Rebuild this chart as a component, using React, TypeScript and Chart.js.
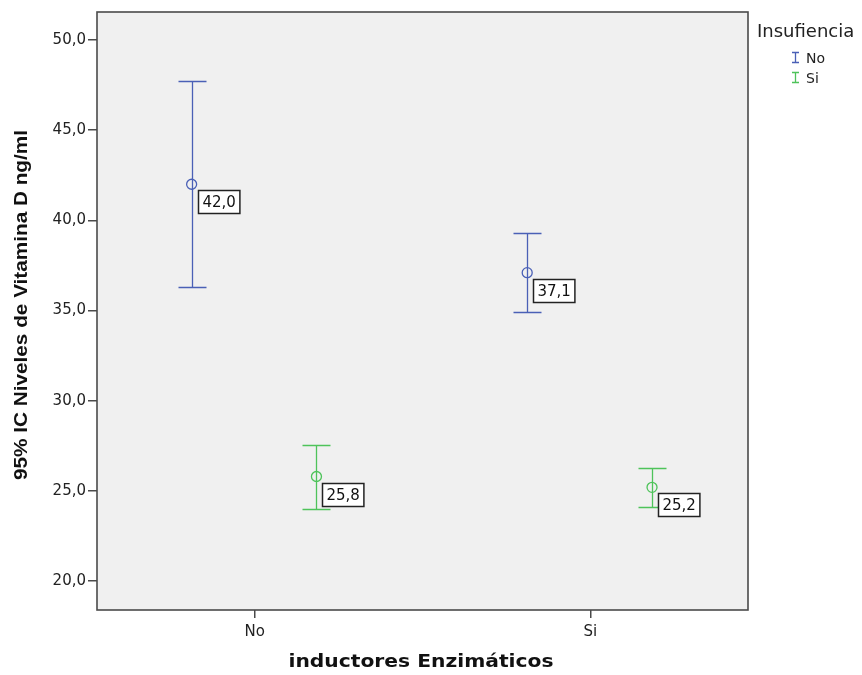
import React, { useEffect, useRef } from "react";
import { Chart, registerables } from "chart.js";

Chart.register(...registerables);

const categories = ["No", "Si"];
const seriesNames = ["No", "Si"];
const seriesColors = ["#4a60b6", "#4ec35a"];
const seriesOffsets = [-0.188, 0.184];
const means = [
  [42.0, 37.1],
  [25.8, 25.2],
];
const upper = [
  [47.7, 39.3],
  [27.55, 26.25],
];
const lower = [
  [36.3, 34.9],
  [24.0, 24.1],
];
const meanLabels = [
  ["42,0", "37,1"],
  ["25,8", "25,2"],
];
const yTicks = [20, 25, 30, 35, 40, 45, 50];
const yTitle = "95% IC Niveles de Vitamina D ng/ml";
const xTitle = "inductores Enzimáticos";
const legendTitle = "Insufiencia";

const fmt = (v: number) => v.toFixed(1).replace(".", ",");
const SANS = "'DejaVu Sans', Verdana, sans-serif";

export default function App() {
  const ref = useRef<HTMLCanvasElement | null>(null);

  useEffect(() => {
    if (!ref.current) return;

    const datasets = seriesNames.map((name, s) => ({
      label: name,
      data: categories.map((_, c) => ({ x: c + seriesOffsets[s], y: means[s][c] })),
      borderColor: seriesColors[s],
      backgroundColor: "rgba(0,0,0,0)",
      pointRadius: 5,
      pointBorderWidth: 1.3,
      pointStyle: "circle",
      showLine: false,
    }));

    const decor = {
      id: "decor",
      beforeDraw(chart: any) {
        const { ctx, chartArea: a } = chart;
        ctx.save();
        ctx.fillStyle = "#ffffff";
        ctx.fillRect(0, 0, chart.width, chart.height);
        ctx.fillStyle = "#f0f0f0";
        ctx.fillRect(a.left, a.top, a.right - a.left, a.bottom - a.top);
        ctx.restore();
      },
      beforeDatasetsDraw(chart: any) {
        const { ctx } = chart;
        const xs = chart.scales.x;
        const ys = chart.scales.y;
        ctx.save();
        ctx.lineWidth = 1.3;
        seriesNames.forEach((_, s) => {
          ctx.strokeStyle = seriesColors[s];
          categories.forEach((_, c) => {
            const px = Math.round(xs.getPixelForValue(c + seriesOffsets[s])) + 0.5;
            const pt = Math.round(ys.getPixelForValue(upper[s][c])) + 0.5;
            const pb = Math.round(ys.getPixelForValue(lower[s][c])) + 0.5;
            ctx.beginPath();
            ctx.moveTo(px, pt);
            ctx.lineTo(px, pb);
            ctx.moveTo(px - 14, pt);
            ctx.lineTo(px + 14, pt);
            ctx.moveTo(px - 14, pb);
            ctx.lineTo(px + 14, pb);
            ctx.stroke();
          });
        });
        ctx.restore();
      },
      afterDraw(chart: any) {
        const { ctx, chartArea: a } = chart;
        const xs = chart.scales.x;
        const ys = chart.scales.y;
        ctx.save();
        // frame
        ctx.strokeStyle = "#4a4a4a";
        ctx.lineWidth = 1.6;
        ctx.strokeRect(a.left, a.top, a.right - a.left, a.bottom - a.top);

        // mean labels
        ctx.font = "15px " + SANS;
        ctx.textBaseline = "middle";
        ctx.textAlign = "left";
        seriesNames.forEach((_, s) => {
          categories.forEach((_, c) => {
            const px = xs.getPixelForValue(c + seriesOffsets[s]);
            const py = ys.getPixelForValue(means[s][c]);
            const t = meanLabels[s][c];
            const w = ctx.measureText(t).width + 8;
            const bx = Math.round(px + 6) + 0.5;
            const by = Math.round(py + 6) + 0.5;
            const h = 23;
            ctx.fillStyle = "#ffffff";
            ctx.fillRect(bx, by, w, h);
            ctx.strokeStyle = "#222222";
            ctx.lineWidth = 1.5;
            ctx.strokeRect(bx, by, w, h);
            ctx.fillStyle = "#111111";
            ctx.fillText(t, bx + 4, by + h / 2 + 1);
          });
        });

        // y title
        ctx.save();
        ctx.translate(22, 305);
        ctx.rotate(-Math.PI / 2);
        ctx.font = "bold 18px 'Liberation Sans', Arial, sans-serif";
        const tw = ctx.measureText(yTitle).width;
        ctx.scale(350 / tw, 1);
        ctx.fillStyle = "#111111";
        ctx.textAlign = "center";
        ctx.textBaseline = "middle";
        ctx.fillText(yTitle, 0, 0);
        ctx.restore();

        // x title
        ctx.save();
        ctx.translate(421, 662);
        ctx.font = "bold 18px " + SANS;
        const xw = ctx.measureText(xTitle).width;
        ctx.scale(265 / xw, 1);
        ctx.fillStyle = "#111111";
        ctx.textAlign = "center";
        ctx.textBaseline = "middle";
        ctx.fillText(xTitle, 0, 0);
        ctx.restore();

        // legend
        ctx.textAlign = "left";
        ctx.textBaseline = "alphabetic";
        ctx.font = "18px " + SANS;
        ctx.fillStyle = "#222222";
        ctx.fillText(legendTitle, 757, 37);
        ctx.font = "14px " + SANS;
        seriesNames.forEach((n, s) => {
          const base = 63 + s * 20;
          ctx.strokeStyle = seriesColors[s];
          ctx.lineWidth = 1.3;
          ctx.beginPath();
          ctx.moveTo(795.5, base - 10);
          ctx.lineTo(795.5, base);
          ctx.moveTo(792, base - 10.5);
          ctx.lineTo(799, base - 10.5);
          ctx.moveTo(792, base - 0.5);
          ctx.lineTo(799, base - 0.5);
          ctx.stroke();
          ctx.fillStyle = "#222222";
          ctx.fillText(n, 806, base);
        });
        ctx.restore();
      },
    };

    const chart = new Chart(ref.current, {
      type: "scatter",
      data: { datasets: datasets as any },
      options: {
        animation: false,
        responsive: false,
        maintainAspectRatio: false,
        layout: { padding: { left: 0, top: 12, right: 114, bottom: 0 } },
        plugins: {
          legend: { display: false },
          tooltip: { enabled: false },
        },
        scales: {
          x: {
            type: "linear",
            min: -0.47,
            max: 1.47,
            afterBuildTicks: (s: any) => {
              s.ticks = categories.map((_, i) => ({ value: i }));
            },
            afterFit: (s: any) => {
              s.height = 65;
            },
            ticks: {
              callback: (v: any) => categories[Math.round(Number(v))] ?? "",
              color: "#222222",
              font: { family: SANS, size: 15 },
              padding: 5,
              maxRotation: 0,
            },
            grid: {
              drawOnChartArea: false,
              drawTicks: true,
              tickLength: 8,
              color: "#4a4a4a",
              lineWidth: 1.5,
            },
            border: { display: false },
          },
          y: {
            type: "linear",
            min: 18.4,
            max: 51.55,
            afterBuildTicks: (s: any) => {
              s.ticks = yTicks.map((v) => ({ value: v }));
            },
            afterFit: (s: any) => {
              s.width = 97;
            },
            ticks: {
              callback: (v: any) => fmt(Number(v)),
              color: "#222222",
              font: { family: SANS, size: 15 },
              padding: 2,
            },
            grid: {
              drawOnChartArea: false,
              drawTicks: true,
              tickLength: 9,
              color: "#4a4a4a",
              lineWidth: 1.5,
            },
            border: { display: false },
          },
        },
      },
      plugins: [decor],
    });

    return () => chart.destroy();
  }, []);

  return (
    <div style={{ position: "fixed", left: 0, top: 0, width: 862, height: 675, background: "#fff" }}>
      <canvas ref={ref} width={862} height={675} style={{ width: 862, height: 675, display: "block" }} />
    </div>
  );
}
